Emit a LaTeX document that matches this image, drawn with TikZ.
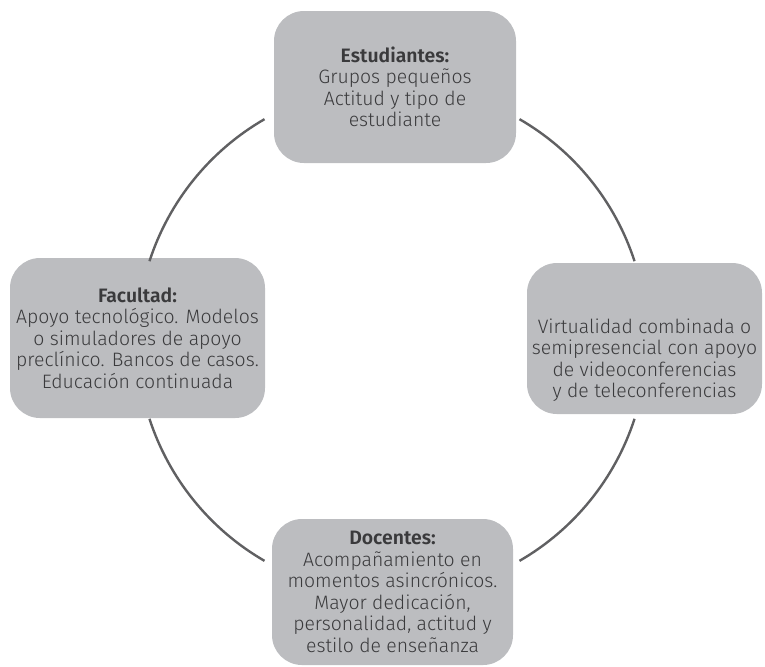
\documentclass[tikz,border=0pt]{standalone}
\usepackage{fontspec}
\setmainfont{Fira Sans}[UprightFont=* Light, BoldFont=* SemiBold]
\definecolor{cajagris}{RGB}{188,189,192}
\definecolor{textogris}{RGB}{58,58,60}
\definecolor{arcogris}{RGB}{96,96,98}
\tikzstyle{caja}=[rectangle,rounded corners=15pt,fill=cajagris,text=textogris,%
  align=center,inner sep=0,font=\fontsize{9.7}{10.75}\selectfont]
\tikzstyle{anillo}=[arcogris,line width=1.2pt]

\begin{document}
\begin{tikzpicture}[x=0.5pt,y=0.5pt]
    \useasboundingbox (0,0) rectangle (765,-666);
    \coordinate (centro) at (392,-340);

    % the four boxes
    \node [caja,minimum width=121pt,minimum height=76pt] (estud) at (395,-87)
      {\textbf{Estudiantes:}\\Grupos pequeños\\Actitud y tipo de\\estudiante};
    \node [caja,minimum width=127.5pt,minimum height=80pt] (facul) at (137.5,-338)
      {\textbf{Facultad:}\\Apoyo tecnológico. Modelos\\o simuladores de apoyo\\%
       preclínico. Bancos de casos.\\Educación continuada};
    \node [caja,minimum width=117.5pt,minimum height=75.5pt] (virtu) at (644.5,-338.5)
      {\mbox{}\\[18pt]Virtualidad combinada o\\semipresencial con apoyo\\%
       de videoconferencias\\y de teleconferencias};
    \node [caja,minimum width=120.5pt,minimum height=73pt] (docen) at (392.5,-592)
      {\textbf{Docentes:}\\Acompañamiento en\\momentos asincrónicos.\\%
       Mayor dedicación,\\personalidad, actitud y\\estilo de enseñanza};

    % the ring between them
    \foreach \a in {18,120,198,300} {
      \draw [anillo] (centro) ++(\a:255) arc [start angle=\a, delta angle=42, radius=255];
    }
\end{tikzpicture}
\end{document}
